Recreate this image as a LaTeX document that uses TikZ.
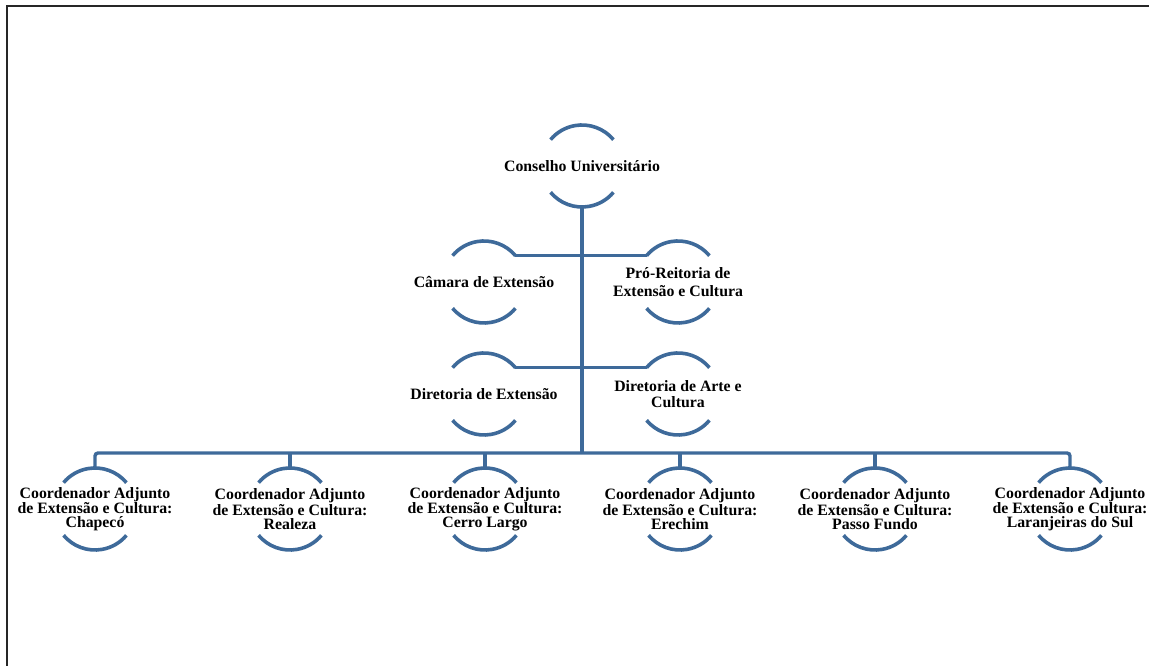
\documentclass[tikz,border=0pt]{standalone}
\usepackage{fontspec}
\setmainfont{Liberation Serif}
\usetikzlibrary{calc}
\definecolor{orgblue}{RGB}{62,106,154}
\tikzset{
  ring/.style={draw=orgblue,line width=3.6pt},
  conn/.style={draw=orgblue,line width=3.4pt},
  lbl/.style={align=center,inner sep=0pt,text=black},
  frame/.style={draw=black!85,line width=1.5pt}
}
% name, x, y, text, baselineskip
\newcommand{\orgunit}[5]{%
  \coordinate (#1) at (#2,#3);
  \node[lbl,font=\bfseries\fontsize{15.8}{#5}\selectfont] (#1-t) at (#1) {#4};
  \draw[ring] ($(#1)+(40:41pt)$) arc[start angle=40,end angle=140,radius=41pt];
  \draw[ring] ($(#1)+(220:41pt)$) arc[start angle=220,end angle=320,radius=41pt];
  \coordinate (#1-top) at ($(#1)+(0,41pt)$);
  \coordinate (#1-bot) at ($(#1)+(0,-41pt)$);
  \coordinate (#1-tl) at ($(#1)+(140:41pt)$);
  \coordinate (#1-tr) at ($(#1)+(40:41pt)$);
}
\begin{document}
\begin{tikzpicture}[x=1pt,y=1pt]
\useasboundingbox (0,0) rectangle (1149,666);
\fill[white] (0,0) rectangle (1149,666);
% frame
\coordinate (fbl) at (7,0);
\coordinate (ftl) at (7,660);
\coordinate (ftr) at (1149,660);
\draw[frame] (fbl) -- (ftl) -- (ftr);

\orgunit{conselho}{582}{500}{Conselho Universitário}{18pt}
\orgunit{camara}{484}{384}{Câmara de Extensão}{18pt}
\orgunit{pro}{678}{384}{Pró-Reitoria de\\Extensão e Cultura}{18pt}
\orgunit{dirext}{484}{272}{Diretoria de Extensão}{18pt}
\orgunit{dirarte}{678}{272}{Diretoria de Arte e\\Cultura}{16.5pt}
\orgunit{chapeco}{95}{157}{Coordenador Adjunto\\de Extensão e Cultura:\\Chapecó}{14pt}
\orgunit{realeza}{290}{157}{Coordenador Adjunto\\de Extensão e Cultura:\\Realeza}{14pt}
\orgunit{cerro}{485}{157}{Coordenador Adjunto\\de Extensão e Cultura:\\Cerro Largo}{14pt}
\orgunit{erechim}{680}{157}{Coordenador Adjunto\\de Extensão e Cultura:\\Erechim}{14pt}
\orgunit{passo}{875}{157}{Coordenador Adjunto\\de Extensão e Cultura:\\Passo Fundo}{14pt}
\orgunit{laranj}{1070}{157}{Coordenador Adjunto\\de Extensão e Cultura:\\Laranjeiras do Sul}{14pt}

\coordinate (hub) at (582,213);
% connectors
\draw[conn] (conselho-bot) -- (hub);
\draw[conn] (camara-tr) -- (pro-tl);
\draw[conn] (dirext-tr) -- (dirarte-tl);
\draw[conn,rounded corners=3pt] (chapeco-top) |- (hub) -| (laranj-top);
\draw[conn] (realeza-top) -- (realeza-top |- hub);
\draw[conn] (cerro-top) -- (cerro-top |- hub);
\draw[conn] (erechim-top) -- (erechim-top |- hub);
\draw[conn] (passo-top) -- (passo-top |- hub);
\end{tikzpicture}
\end{document}
